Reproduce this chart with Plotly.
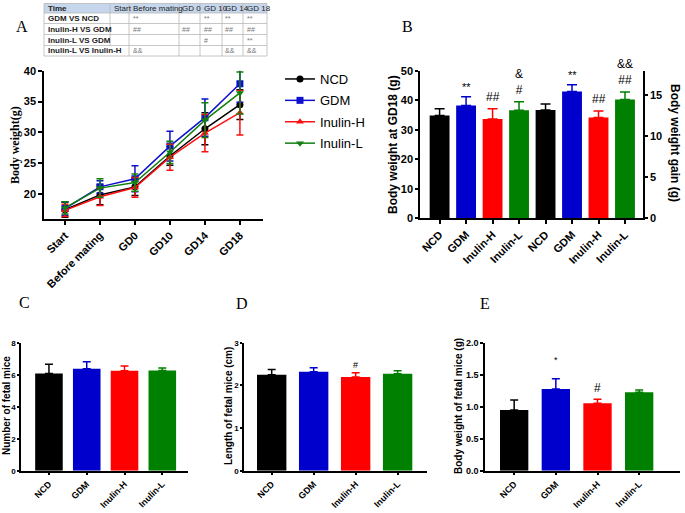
import plotly.graph_objects as go

W, H = 685, 513
def px(x): return x / W
def py(y): return 1 - y / H

groups = ["NCD", "GDM", "Inulin-H", "Inulin-L"]
colors = ["#000000", "#0000cc", "#ff0000", "#008000"]
line_colors = ["#000000", "#1010d0", "#ff1010", "#108010"]
symbols = ["circle", "square", "triangle-up", "triangle-down"]

# Panel A: body weight over time (mean, SD)
timepoints = ["Start", "Before mating", "GD0", "GD10", "GD14", "GD18"]
bw_ncd = [17.5, 19.9, 21.2, 26.2, 30.6, 34.5]
bw_gdm = [17.7, 21.2, 22.5, 27.8, 32.4, 37.9]
bw_inh = [17.4, 19.6, 21.1, 26.0, 29.9, 33.2]
bw_inl = [17.8, 21.0, 21.9, 26.8, 32.0, 36.4]
sd_ncd = [1.2, 1.6, 1.4, 1.5, 2.6, 2.4]
sd_gdm = [1.1, 1.0, 2.1, 2.4, 3.0, 3.0]
sd_inh = [1.0, 1.4, 1.6, 2.1, 3.0, 3.6]
sd_inl = [1.0, 1.5, 1.4, 1.8, 2.8, 3.4]

# Table of significance
table_header = ["Time", "Start", "Before mating", "GD 0", "GD 10", "GD 14", "GD 18"]
table_rows = ["GDM VS NCD", "Inulin-H VS GDM", "Inulin-L VS GDM", "Inulin-L VS Inulin-H"]
table_marks = [
    ["", "**", "", "**", "**", "**"],
    ["", "##", "##", "##", "##", "##"],
    ["", "", "", "#", "", "**"],
    ["", "&&", "", "", "&&", "&&"],
]

# Panel B
b_labels = ["NCD", "GDM", "Inulin-H", "Inulin-L"]
b_gd18 = [34.8, 38.2, 33.6, 36.6]
b_gd18_sd = [2.3, 3.0, 3.5, 2.9]
b_gain = [13.2, 15.45, 12.3, 14.5]
b_gain_sd = [0.75, 0.85, 0.8, 0.9]
b_sig_left = ["", "**", "##", "&<br>#"]
b_sig_right = ["", "**", "##", "&&<br>##"]

# Panels C, D, E
c_number = [6.08, 6.37, 6.25, 6.27]
c_number_sd = [0.57, 0.44, 0.29, 0.15]
d_length = [2.25, 2.32, 2.195, 2.27]
d_length_sd = [0.12, 0.09, 0.10, 0.07]
d_sig = ["", "", "#", ""]
e_weight = [0.948, 1.276, 1.052, 1.224]
e_weight_sd = [0.156, 0.162, 0.063, 0.036]
e_sig = ["", "*", "#", ""]

fig = go.Figure()

# ---- Panel A lines
for g, c, s, m, sd in zip(groups, line_colors, symbols,
                          [bw_ncd, bw_gdm, bw_inh, bw_inl],
                          [sd_ncd, sd_gdm, sd_inh, sd_inl]):
    fig.add_trace(go.Scatter(
        x=list(range(len(timepoints))), y=m, mode="lines+markers", name=g, legendgroup=g,
        line=dict(color=c, width=1.5),
        marker=dict(symbol=s, size=7, color=c),
        error_y=dict(type="data", array=sd, color=c, thickness=1.5, width=3.5),
        xaxis="x", yaxis="y", showlegend=True))

# ---- Panel B bars
for i in range(4):
    fig.add_trace(go.Bar(
        x=[i], y=[b_gd18[i]], width=0.75, marker=dict(color=colors[i], line=dict(width=0)),
        error_y=dict(type="data", array=[b_gd18_sd[i]], arrayminus=[0], symmetric=False,
                     color=colors[i], thickness=1.5, width=5),
        xaxis="x2", yaxis="y2", showlegend=False))
for i in range(4):
    fig.add_trace(go.Bar(
        x=[i + 4], y=[b_gain[i]], width=0.75, marker=dict(color=colors[i], line=dict(width=0)),
        error_y=dict(type="data", array=[b_gain_sd[i]], arrayminus=[0], symmetric=False,
                     color=colors[i], thickness=1.5, width=5),
        xaxis="x2", yaxis="y3", showlegend=False))

# ---- Panels C, D, E
panel_data = [
    ("x3", "y4", c_number, c_number_sd, 0.73),
    ("x4", "y5", d_length, d_length_sd, 0.70),
    ("x5", "y6", e_weight, e_weight_sd, 0.68),
]
for xa, ya, vals, sds, wd in panel_data:
    for i in range(4):
        fig.add_trace(go.Bar(
            x=[i], y=[vals[i]], width=wd, marker=dict(color=colors[i], line=dict(width=0)),
            error_y=dict(type="data", array=[sds[i]], arrayminus=[0], symmetric=False,
                         color=colors[i], thickness=1.5, width=4),
            xaxis=xa, yaxis=ya, showlegend=False))

ax_common = dict(showline=True, linecolor="black", linewidth=1.5, ticks="outside",
                 tickwidth=1.5, tickcolor="black", showgrid=False, zeroline=False,
                 fixedrange=True, automargin=False)

def xax(d0, d1, rng, tickvals, ticktext, anchor, fs, tl=4):
    return dict(domain=[px(d0), px(d1)], range=rng, tickvals=tickvals, ticktext=ticktext,
                tickangle=-45, anchor=anchor, ticklen=tl,
                tickfont=dict(family="Arial", size=fs, color="black", weight="bold"), **ax_common)

def yax(top, bot, rng, tickvals, anchor, fs, tl=4, **kw):
    return dict(domain=[py(bot), py(top)], range=rng, tickvals=tickvals, anchor=anchor,
                ticklen=tl,
                tickfont=dict(family="Arial", size=fs, color="black", weight="bold"),
                **ax_common, **kw)

layout = dict(
    template="none",
    width=W, height=H, margin=dict(l=0, r=0, t=0, b=0, autoexpand=False),
    paper_bgcolor="white", plot_bgcolor="white", barmode="overlay",
    font=dict(family="Arial", color="black"),
    xaxis=xax(44, 263, [-0.6, 5.66], list(range(6)), timepoints, "y", 11),
    yaxis=yax(70.7, 219, [16, 40], [20, 25, 30, 35, 40], "x", 11),
    xaxis2=xax(420, 643, [-0.74, 7.68], list(range(8)), b_labels + b_labels, "y2", 11),
    yaxis2=yax(70.7, 218.3, [0, 50], [0, 10, 20, 30, 40, 50], "x2", 11, 3),
    yaxis3=dict(overlaying="y2", side="right", range=[0, 18], tickvals=[0, 5, 10, 15],
                anchor="x2", ticklen=3,
                tickfont=dict(family="Arial", size=11, color="black", weight="bold"),
                **ax_common),
    xaxis3=xax(21, 188, [-0.74, 3.68], list(range(4)), groups, "y4", 9, 3),
    yaxis4=yax(342.7, 470.7, [0, 8], [0, 2, 4, 6, 8], "x3", 8, 2),
    xaxis4=xax(244, 427, [-0.66, 3.70], list(range(4)), groups, "y5", 9, 3),
    yaxis5=yax(342.7, 470.7, [0, 3], [0, 1, 2, 3], "x4", 8, 2),
    xaxis5=xax(485, 680, [-0.70, 3.98], list(range(4)), groups, "y6", 9, 3),
    yaxis6=yax(342.7, 470.7, [0, 2], [0, 0.5, 1.0, 1.5, 2.0], "x5", 9, 3, tickformat=".1f"),
    legend=dict(x=px(280), y=py(64), xanchor="left", yanchor="top",
                font=dict(family="Arial", size=13, color="black"),
                bgcolor="rgba(0,0,0,0)", tracegroupgap=1.5, itemwidth=30),
)
fig.update_layout(**layout)

ann = []
shapes = []

# Panel labels
for lab, x, y in [("A", 22, 26), ("B", 407, 26), ("C", 25, 302), ("D", 242, 303), ("E", 485, 303)]:
    ann.append(dict(text=lab, x=px(x), y=py(y), xref="paper", yref="paper", showarrow=False,
                    xanchor="center", yanchor="middle",
                    font=dict(family="Liberation Serif", size=16, color="black")))

# Axis titles
def ytitle(text, x, y, size, family="Arial", angle=-90):
    ann.append(dict(text=text, x=px(x), y=py(y), xref="paper", yref="paper", showarrow=False,
                    textangle=angle, xanchor="center", yanchor="middle",
                    font=dict(family=family, size=size, color="black", weight="bold")))

ytitle("Body weight(g)", 15, 145, 12, family="Liberation Serif")
ytitle("Body weight at GD18 (g)", 393, 145, 12)
ytitle("Body weight gain (g)", 675, 143, 12, angle=90)
ytitle("Number of fetal mice", 6, 406, 10)
ytitle("Length of fetal mice (cm)", 228, 406, 10)
ytitle("Body weight of fetal mice (g)", 458, 406, 10)

# Significance marks panel B
for i in range(4):
    for txt, yref, val, sd, xv in [(b_sig_left[i], "y2", b_gd18[i], b_gd18_sd[i], i),
                                   (b_sig_right[i], "y3", b_gain[i], b_gain_sd[i], i + 4)]:
        if txt:
            shift = 2 if txt == "**" else 3
            ann.append(dict(text=txt, x=xv, y=val + sd, xref="x2", yref=yref, showarrow=False,
                            xanchor="center", yanchor="bottom", yshift=shift,
                            font=dict(family="Arial", size=12 if txt != "**" else 11,
                                      color="black")))
for i in range(4):
    if d_sig[i]:
        ann.append(dict(text=d_sig[i], x=i, y=d_length[i] + d_length_sd[i], xref="x4", yref="y5",
                        showarrow=False, xanchor="center", yanchor="bottom", yshift=1,
                        font=dict(family="Arial", size=9, color="black")))
    if e_sig[i]:
        is_star = e_sig[i] == "*"
        ann.append(dict(text=e_sig[i], x=i, y=e_weight[i] + e_weight_sd[i], xref="x5", yref="y6",
                        showarrow=False, xanchor="center", yanchor="bottom",
                        yshift=12 if is_star else 2,
                        font=dict(family="Arial", size=9 if is_star else 12, color="black")))

# ---- Table
col_edges = [44, 110, 129, 179, 200, 222, 243, 267]
row_edges = [3.5, 13, 23.5, 34.5, 45.5, 56]
shapes.append(dict(type="rect", xref="paper", yref="paper",
                   x0=px(col_edges[0]), x1=px(col_edges[-1]),
                   y0=py(row_edges[1]), y1=py(row_edges[0]),
                   fillcolor="#c6d6ec", line=dict(width=0), layer="below"))
for ry in row_edges:
    shapes.append(dict(type="line", xref="paper", yref="paper",
                       x0=px(col_edges[0]), x1=px(col_edges[-1]), y0=py(ry), y1=py(ry),
                       line=dict(color="#b8b8b8", width=0.8)))
for j, cx in enumerate(col_edges):
    for r in range(len(row_edges) - 1):
        if r == 4 and j == 1:
            continue
        shapes.append(dict(type="line", xref="paper", yref="paper",
                           x0=px(cx), x1=px(cx), y0=py(row_edges[r]), y1=py(row_edges[r + 1]),
                           line=dict(color="#b8b8b8", width=0.8)))

def cell_text(text, col, row, bold, color, size=8):
    ann.append(dict(text=text, x=px(col_edges[col] + 1.5),
                    y=py((row_edges[row] + row_edges[row + 1]) / 2),
                    xref="paper", yref="paper", showarrow=False, xanchor="left", yanchor="middle",
                    font=dict(family="Arial", size=size, color=color,
                              weight="bold" if bold else "normal")))

for j, h in enumerate(table_header):
    cell_text(h, j, 0, j == 0, "#222222")
for r, (lab, marks) in enumerate(zip(table_rows, table_marks)):
    cell_text(lab, 0, r + 1, True, "#222222")
    for j, m in enumerate(marks):
        if m:
            cell_text(m, j + 1, r + 1, False, "#777777", size=7)

fig.update_layout(annotations=ann, shapes=shapes)
fig.write_html("out.html", config={"displayModeBar": False},
               post_script="document.body.style.margin='0px';document.body.style.padding='0px';")
